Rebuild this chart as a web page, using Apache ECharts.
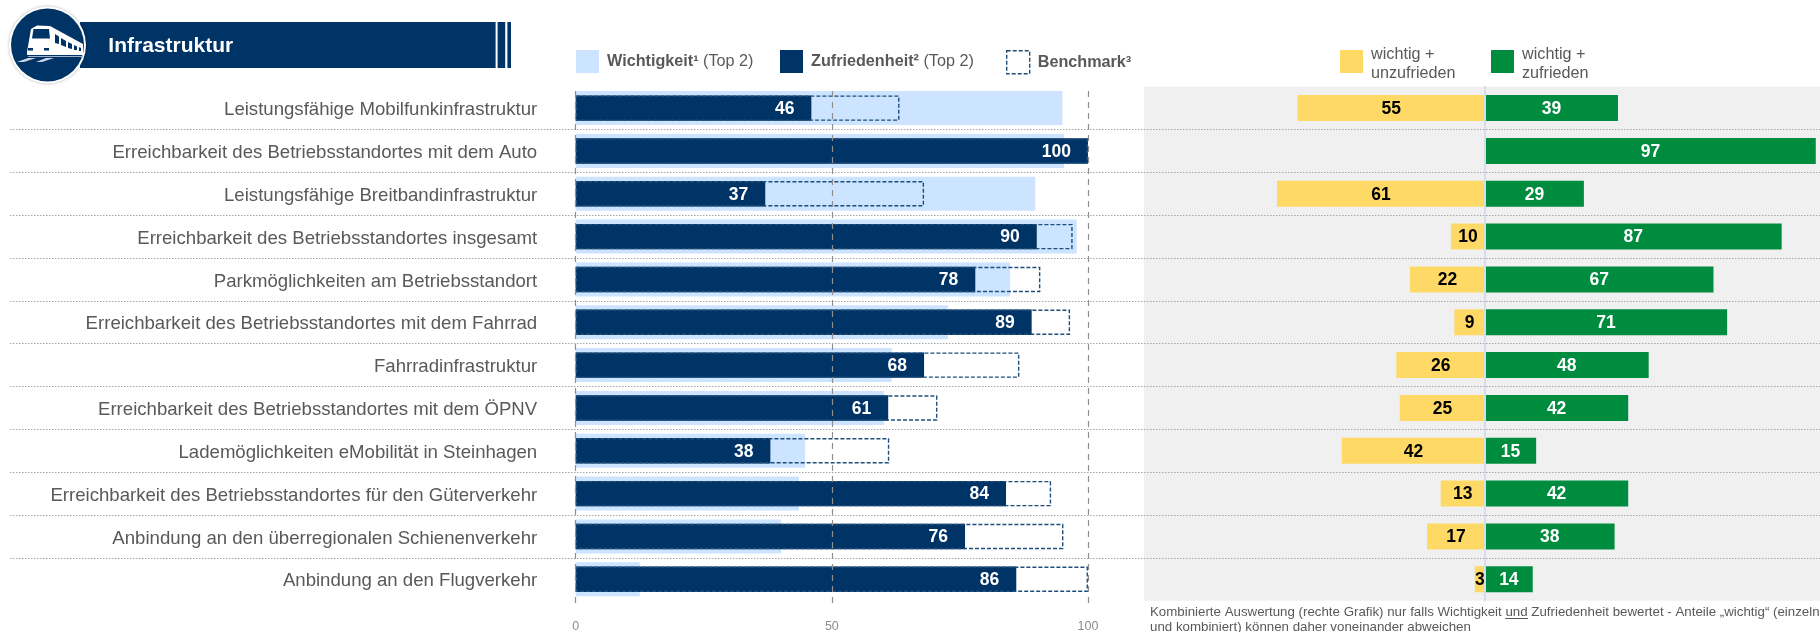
<!DOCTYPE html>
<html>
<head>
<meta charset="utf-8">
<title>Infrastruktur</title>
<script src="https://cdn.jsdelivr.net/npm/echarts@6/dist/echarts.min.js"></script>
<style>
html, body { margin: 0; padding: 0; background: #fff; }
#chart-container { width: 1820px; height: 632px; }
</style>
</head>
<body>
<div id="chart-container"></div>
<script>
var categories = [
    'Leistungsfähige Mobilfunkinfrastruktur',
    'Erreichbarkeit des Betriebsstandortes mit dem Auto',
    'Leistungsfähige Breitbandinfrastruktur',
    'Erreichbarkeit des Betriebsstandortes insgesamt',
    'Parkmöglichkeiten am Betriebsstandort',
    'Erreichbarkeit des Betriebsstandortes mit dem Fahrrad',
    'Fahrradinfrastruktur',
    'Erreichbarkeit des Betriebsstandortes mit dem ÖPNV',
    'Lademöglichkeiten eMobilität in Steinhagen',
    'Erreichbarkeit des Betriebsstandortes für den Güterverkehr',
    'Anbindung an den überregionalen Schienenverkehr',
    'Anbindung an den Flugverkehr'
];
var wichtigkeit = [95, 95.3, 89.7, 97.8, 84.8, 72.7, 61.7, 60.2, 44.8, 43.6, 40.1, 12.5];
var zufriedenheit = [46, 100, 37, 90, 78, 89, 68, 61, 38, 84, 76, 86];
var benchmark = [63.2, 100, 68, 97, 90.7, 96.5, 86.6, 70.6, 61.2, 92.8, 95.2, 100];
var unzufrieden = [55, null, 61, 10, 22, 9, 26, 25, 42, 13, 17, 3];
var zufrieden = [39, 97, 29, 87, 67, 71, 48, 42, 15, 42, 38, 14];
var tickValues = [0, 50, 100];

var font = 'Liberation Sans';
var navy = '#003366';

// same rows for every grid, only left/width differ
var rowTop = 86.7, rowHeight = 514;

var chart = echarts.init(document.getElementById('chart-container'));

function hiddenCategory(gridIndex) {
    return {
        type: 'category', gridIndex: gridIndex, data: categories, inverse: true,
        axisLine: {show: false}, axisTick: {show: false}, axisLabel: {show: false}
    };
}
function hiddenValue(gridIndex, min, max) {
    return {
        type: 'value', gridIndex: gridIndex, min: min, max: max,
        axisLine: {show: false}, axisTick: {show: false}, axisLabel: {show: false}, splitLine: {show: false}
    };
}

var xAxes = [
    hiddenValue(0, 0, 100),
    hiddenValue(1, 0, 100),
    {
        type: 'value', gridIndex: 2, min: 0, max: 100, interval: 50, z: 5,
        axisLine: {show: false}, axisTick: {show: false},
        axisLabel: {
            margin: 13, color: '#8c8c8c', fontFamily: font, fontSize: 12.5,
            formatter: function (v) { return tickValues.indexOf(v) > -1 ? String(v) : ''; }
        },
        splitLine: {show: true, lineStyle: {color: '#8f8f8f', width: 1.2, type: [6, 5]}}
    },
    hiddenValue(3, -100, 100),
    hiddenValue(4, 0, 100),
    hiddenValue(5, 0, 100)
];

var yAxes = [
    hiddenCategory(0),
    hiddenCategory(1),
    {type: 'value', gridIndex: 2, min: 0, max: 1, show: false},
    {
        type: 'category', gridIndex: 3, data: categories, inverse: true, z: 3,
        axisLine: {show: true, onZero: true, lineStyle: {color: '#d6dce8', width: 2}},
        axisTick: {show: false}, axisLabel: {show: false}
    },
    {
        type: 'category', gridIndex: 4, data: categories, inverse: true, z: 1,
        axisLine: {show: false}, axisTick: {show: false}, axisLabel: {show: false},
        splitLine: {
            show: true, showMinLine: false, showMaxLine: false,
            lineStyle: {color: '#a6a6a6', width: 1, type: [1.5, 1.5]}
        }
    },
    // row labels sit a little below the bar centres in the original
    {
        type: 'category', gridIndex: 5, data: categories, inverse: true,
        axisLine: {show: false}, axisTick: {show: false},
        axisLabel: {margin: 38.5, color: '#595959', fontFamily: font, fontSize: 18.6, align: 'right'}
    }
];

var options = {
    animation: false,
    backgroundColor: '#fff',
    grid: [
        {left: 575.7, width: 512.3, top: rowTop, height: rowHeight, outerBoundsMode: 'none'},
        {left: 575.7, width: 512.3, top: rowTop, height: rowHeight, outerBoundsMode: 'none'},
        {left: 575.7, width: 512.3, top: 91, height: 516, outerBoundsMode: 'none'},
        {left: 1144, width: 682, top: rowTop, height: rowHeight, show: true, backgroundColor: '#f0f0f0', borderWidth: 0, outerBoundsMode: 'none'},
        {left: 10, width: 1810, top: rowTop, height: rowHeight, outerBoundsMode: 'none'},
        {left: 575.7, width: 512.3, top: rowTop + 2, height: rowHeight, outerBoundsMode: 'none'}
    ],
    xAxis: xAxes,
    yAxis: yAxes,
    legend: [
        legendItem('Wichtigkeit', 576, 50, '{b|Wichtigkeit¹} (Top 2)'),
        legendItem('Zufriedenheit', 780, 50, '{b|Zufriedenheit²} (Top 2)'),
        legendItem('Benchmark', 1006, 50, '{b|Benchmark³}', {
            color: 'transparent', borderColor: '#1f4e79', borderWidth: 1.4, borderType: [4, 2]
        }),
        legendItem('wichtig + unzufrieden', 1340, 40, 'wichtig +\nunzufrieden', null, 5),
        legendItem('wichtig + zufrieden', 1491, 40, 'wichtig +\nzufrieden', null, 5)
    ],
    series: [
        {
            name: 'Wichtigkeit', type: 'bar', xAxisIndex: 0, yAxisIndex: 0, z: 2,
            barWidth: 34, data: wichtigkeit, itemStyle: {color: '#cce4ff'}
        },
        {
            name: 'Zufriedenheit', type: 'bar', xAxisIndex: 1, yAxisIndex: 1, z: 3,
            barWidth: 25.4, barGap: '-100%', data: zufriedenheit, itemStyle: {color: navy},
            label: {
                show: true, position: 'insideRight', distance: 17, offset: [0, 1], color: '#fff',
                fontFamily: font, fontSize: 17.5, fontWeight: 'bold'
            }
        },
        {
            name: 'Benchmark', type: 'bar', xAxisIndex: 1, yAxisIndex: 1, z: 3,
            barWidth: 25.4, barGap: '-100%', data: benchmark,
            itemStyle: {color: 'transparent', borderColor: '#1f4e79', borderWidth: 1.4, borderType: [4, 2]}
        },
        {
            name: 'wichtig + unzufrieden', type: 'bar', xAxisIndex: 3, yAxisIndex: 3, z: 2,
            barWidth: 26, barGap: '-100%',
            data: unzufrieden.map(function (v) { return v === null ? null : -v; }),
            itemStyle: {color: '#ffd966'},
            label: {
                show: true, position: 'inside', offset: [0, 1], color: '#000', fontFamily: font, fontSize: 17.5, fontWeight: 'bold',
                formatter: function (p) { return Math.abs(p.value); }
            }
        },
        {
            name: 'wichtig + zufrieden', type: 'bar', xAxisIndex: 3, yAxisIndex: 3, z: 2,
            barWidth: 26, barGap: '-100%', data: zufrieden,
            itemStyle: {color: '#008c3f'},
            label: {
                show: true, position: 'inside', offset: [0, 1], color: '#fff', fontFamily: font, fontSize: 17.5, fontWeight: 'bold'
            }
        }
    ],
    graphic: {elements: headerGraphics().concat(noteGraphics())}
};

function legendItem(name, left, top, text, itemStyle, padTop) {
    var item = {
        data: [name], left: left, top: top, padding: 0, itemWidth: 23, itemHeight: 23, selectedMode: false,
        icon: 'rect',
        formatter: function () { return text; },
        textStyle: {
            color: '#595959', fontFamily: font, fontSize: 16.2, lineHeight: 19, padding: [padTop || 0, 0, 0, 3],
            rich: {b: {fontWeight: 'bold', fontFamily: font, fontSize: 16.2, color: '#595959'}}
        }
    };
    if (itemStyle) item.itemStyle = itemStyle;
    return item;
}

// title banner and train badge
function headerGraphics() {
    function poly(points, fill) {
        return {type: 'polygon', z: 12, shape: {points: points}, style: {fill: fill}};
    }
    function box(x, y, w, h, fill, z) {
        return {type: 'rect', z: z || 10, shape: {x: x, y: y, width: w, height: h}, style: {fill: fill}};
    }
    var list = [
        box(80, 22, 415.6, 46, navy),
        box(497.6, 22, 7.6, 46, navy),
        box(507.4, 22, 3.6, 46, navy),
        {
            type: 'circle', z: 11, shape: {cx: 47.5, cy: 45, r: 38.5},
            style: {fill: '#fff', shadowColor: 'rgba(0,0,0,0.3)', shadowBlur: 3}
        },
        {type: 'circle', z: 11, shape: {cx: 47.5, cy: 45, r: 36.5}, style: {fill: navy}},
        poly([[27, 52], [31, 29], [37, 25.5], [50, 26], [83, 44], [83, 55], [27, 55]], '#fff'),
        poly([[33.5, 29], [49, 29], [50, 38.5], [32, 38.5]], navy),
        poly([[55, 34], [59, 36.5], [59, 44], [55, 43]], navy),
        poly([[61, 38], [66, 41], [66, 47], [61, 45]], navy),
        poly([[68, 42], [72, 44], [72, 49], [68, 48]], navy),
        poly([[74, 45], [77, 46.5], [77, 50], [74, 50]], navy),
        poly([[79, 47], [81, 48], [81, 51], [79, 51]], navy),
        box(28, 48, 5, 2.5, navy, 12),
        box(44, 48, 5, 2.5, navy, 12),
        poly([[17, 62], [28, 58], [36, 58], [24, 62]], '#cfd8e6'),
        poly([[36, 62], [46, 58], [54, 58], [42, 62]], '#cfd8e6'),
        poly([[28, 56], [83, 56], [83, 57], [28, 57]], '#9fb3cc'),
        {
            type: 'text', z: 12, x: 108.3, y: 46.5,
            style: {
                text: 'Infrastruktur', fill: '#fff', font: 'bold 21px "Liberation Sans"',
                verticalAlign: 'middle'
            }
        }
    ];
    return list;
}

// footnote under the right chart
function noteGraphics() {
    return [
        {
            type: 'text', z: 12, x: 1150, y: 604.5,
            style: {
                text: 'Kombinierte Auswertung (rechte Grafik) nur falls Wichtigkeit und Zufriedenheit bewertet - Anteile „wichtig“ (einzeln\nund kombiniert) können daher voneinander abweichen',
                fill: '#595959', font: '13.3px "Liberation Sans"', lineHeight: 15.5
            }
        },
        {
            type: 'line', z: 12, shape: {x1: 1505.2, y1: 618.5, x2: 1528, y2: 618.5},
            style: {stroke: '#595959', lineWidth: 1}
        }
    ];
}

chart.setOption(options);
</script>
</body>
</html>
